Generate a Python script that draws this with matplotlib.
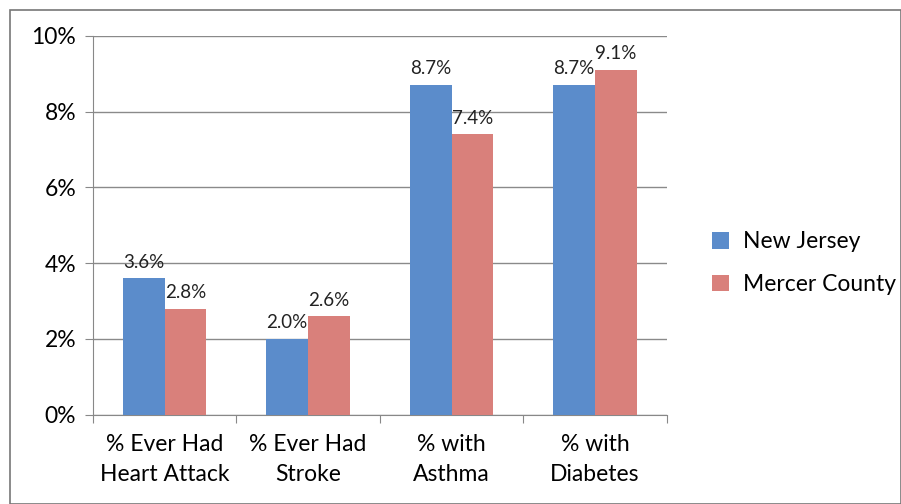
import numpy as np
import matplotlib.pyplot as plt
from matplotlib.patches import Rectangle

categories = ['% Ever Had\nHeart Attack', '% Ever Had\nStroke', '% with\nAsthma', '% with\nDiabetes']
new_jersey = [3.6, 2.0, 8.7, 8.7]
mercer = [2.8, 2.6, 7.4, 9.1]
series_names = ['New Jersey', 'Mercer County']

plt.rcParams['font.family'] = ['Lato', 'DejaVu Sans']

fig = plt.figure(figsize=(9.01, 5.04), dpi=100)
ax = fig.add_axes([0.103, 0.177, 0.637, 0.752])

x = np.arange(len(categories))
w = 0.29
b1 = ax.bar(x - w/2, new_jersey, w, color='#5B8CCB', label=series_names[0], zorder=3)
b2 = ax.bar(x + w/2, mercer, w, color='#D9807B', label=series_names[1], zorder=3)

for bars, vals in ((b1, new_jersey), (b2, mercer)):
    for b, v in zip(bars, vals):
        ax.text(b.get_x() + b.get_width()/2, v + 0.2, f'{v:.1f}%',
                ha='center', va='bottom', fontsize=13.5, color='#222222')

ax.set_xlim(-0.5, len(categories) - 0.5)
ax.set_ylim(0, 10)
ax.set_yticks(np.arange(0, 11, 2))
ax.set_yticklabels([f'{v}%' for v in range(0, 11, 2)], fontsize=16.5)
ax.yaxis.grid(True, color='#8a8a8a', linewidth=1, zorder=0)

ax.set_xticks(np.arange(-0.5, len(categories), 1))
ax.set_xticklabels([])
ax.set_xticks(x, minor=True)
ax.set_xticklabels(categories, minor=True, fontsize=16.5, linespacing=1.5)
ax.tick_params(axis='x', which='minor', length=0, pad=14)
ax.tick_params(axis='x', which='major', length=6, color='#888888')
ax.tick_params(axis='y', length=6, color='#888888', pad=6)

for s in ['top', 'right']:
    ax.spines[s].set_visible(False)
for s in ['left', 'bottom']:
    ax.spines[s].set_color('#888888')

ax.legend(loc='center left', bbox_to_anchor=(1.043, 0.40), frameon=False,
          fontsize=16.5, handlelength=0.75, handleheight=0.75, handletextpad=0.6,
          labelspacing=0.95)

fig.patches.append(Rectangle((0.011, 0.0), 0.989, 0.98, transform=fig.transFigure,
                             fill=False, edgecolor='#777777', linewidth=1.2))

fig.savefig('out.png', dpi=100)
